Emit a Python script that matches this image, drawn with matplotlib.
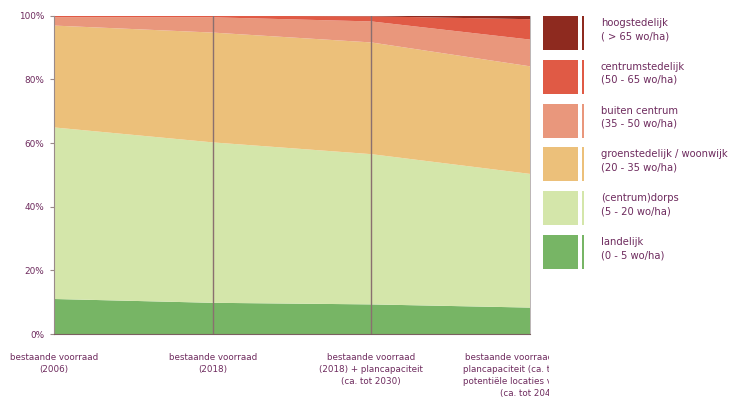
import matplotlib
matplotlib.use("Agg")
import matplotlib.pyplot as plt
import numpy as np
from matplotlib.patches import Rectangle
from matplotlib.transforms import Bbox, TransformedBbox

plt.rcParams['font.family'] = ['DejaVu Sans']

# Share of dwellings per density class (percent), stacked bottom to top
scenarios = [
    "bestaande voorraad\n(2006)",
    "bestaande voorraad\n(2018)",
    "bestaande voorraad\n(2018) + plancapaciteit\n(ca. tot 2030)",
    "bestaande voorraad (2018) +\nplancapaciteit (ca. tot 2030) +\npotentiële locaties verdichting\n(ca. tot 2040)",
]
landelijk = [11.0, 9.8, 9.3, 8.3]
dorps = [53.9, 50.4, 47.2, 42.0]
groenstedelijk = [32.0, 34.5, 35.1, 33.8]
buiten_centrum = [2.6, 4.8, 6.6, 8.4]
centrumstedelijk = [0.4, 0.5, 1.6, 6.4]
hoogstedelijk = [0.1, 0.0, 0.2, 1.1]

series = [landelijk, dorps, groenstedelijk, buiten_centrum, centrumstedelijk, hoogstedelijk]
colors = ["#77b565", "#d4e6aa", "#ecc07a", "#e9977c", "#e05a45", "#8e2a1f"]
legend_labels = [
    "hoogstedelijk\n( > 65 wo/ha)",
    "centrumstedelijk\n(50 - 65 wo/ha)",
    "buiten centrum\n(35 - 50 wo/ha)",
    "groenstedelijk / woonwijk\n(20 - 35 wo/ha)",
    "(centrum)dorps\n(5 - 20 wo/ha)",
    "landelijk\n(0 - 5 wo/ha)",
]
legend_colors = colors[::-1]
y_ticks = [0, 20, 40, 60, 80, 100]
y_ticklabels = ["0%", "20%", "40%", "60%", "80%", "100%"]

text_color = "#6e2b5e"
W, H = 737, 397
fig = plt.figure(figsize=(W / 100, H / 100), dpi=100)

ax = fig.add_axes([54 / W, (H - 334) / H, (530 - 54) / W, (334 - 15.7) / H])
x = np.arange(len(scenarios))
ax.stackplot(x, *series, colors=colors, linewidth=0)
ax.set_xlim(0, len(scenarios) - 1)
ax.set_ylim(0, 100)

for xv in [1, 2]:
    ax.axvline(xv, color="#8a6f6f", lw=1.0, zorder=3)

ax.set_yticks(y_ticks)
ax.set_yticklabels(y_ticklabels, color=text_color, fontsize=6.4)
ax.tick_params(axis="y", length=3, width=0.8, color="#9a8a8a", pad=4)
ax.set_xticks(x)
ax.set_xticklabels(scenarios, color=text_color, fontsize=6.3, linespacing=1.4)
ax.tick_params(axis="x", length=0, pad=14)

ax.spines["top"].set_visible(False)
ax.spines["left"].set_color("#9a8a8a")
ax.spines["bottom"].set_color("#7a6060")
ax.spines["right"].set_color("#b0a8a8")
ax.spines["right"].set_linewidth(0.6)

# last category label runs under the legend column and is cut off there
clip = TransformedBbox(Bbox([[0, 0], [549 / W, 1]]), fig.transFigure)
for lbl in ax.get_xticklabels():
    lbl.set_clip_box(clip)
    lbl.set_clip_on(True)

# legend: swatch, thin bar, two-line label per class
lax = fig.add_axes([0, 0, 1, 1])
lax.set_xlim(0, W)
lax.set_ylim(H, 0)
lax.axis("off")
row_step = 43.8
for i, (lab, col) in enumerate(zip(legend_labels, legend_colors)):
    top = 16 + i * row_step
    lax.add_patch(Rectangle((543, top), 35, 34, color=col, lw=0))
    lax.add_patch(Rectangle((582.5, top), 2, 34, color=col, lw=0))
    lax.text(601, top + 2, lab, color=text_color, fontsize=7.2, va="top", ha="left",
             linespacing=1.4)

fig.savefig("out.png", dpi=100)
